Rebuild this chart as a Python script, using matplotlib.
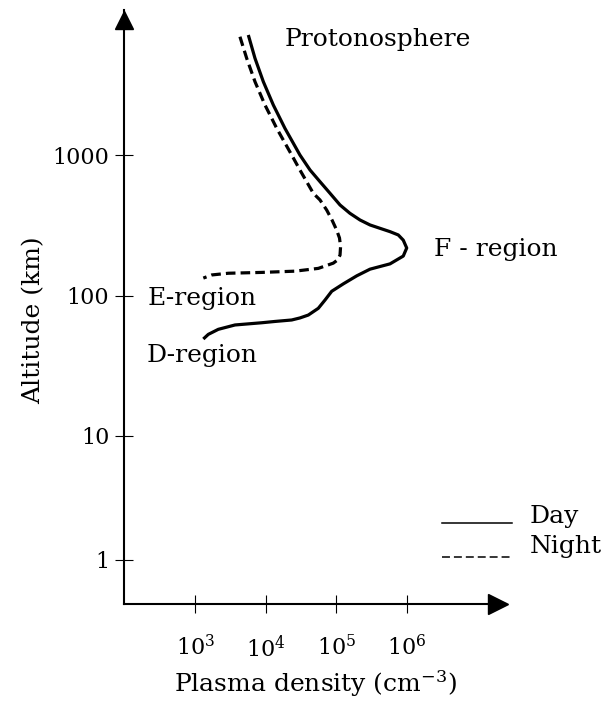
import numpy as np
import matplotlib
matplotlib.use("Agg")
import matplotlib.pyplot as plt
from matplotlib.ticker import NullLocator

plt.rcParams["font.family"] = "DejaVu Serif"
plt.rcParams["mathtext.fontset"] = "dejavuserif"

# Day profile (solid), read from top to bottom
day_density = [5650, 7030, 9230, 12800, 18700, 30500, 42400, 58700, 81500,
               113000, 156000, 217000, 301000, 417000, 578000, 757000, 891000,
               997000, 891000, 578000, 301000, 195000, 126000, 86100, 69200,
               55600, 40100, 30500, 23300, 13500, 8750, 3660, 2120, 1530, 1300]
day_altitude = [7100, 4850, 3310, 2260, 1545, 1000, 783, 647, 535, 442, 386,
                346, 319, 302, 286, 271, 249, 219, 192, 169, 155, 139, 122,
                108, 93.6, 81.7, 73.1, 69.7, 67.4, 65.8, 64.4, 62.1, 57.8,
                53.2, 49.3]

# Night profile (dashed)
night_density = [4300, 5360, 7030, 9750, 14300, 23300, 30500, 47200, 58700,
                 73100, 86900, 101000, 111000, 115000, 113000, 104000, 90600,
                 55600, 25900, 8750, 2940, 1710, 1300]
night_altitude = [6900, 4850, 3310, 2260, 1545, 1000, 783, 535, 480, 407, 346,
                  294, 258, 224, 195, 180, 171, 157, 150, 147, 145, 141, 134]

x_ticks = [1e3, 1e4, 1e5, 1e6]
x_tick_labels = ["$10^{3}$", "$10^{4}$", "$10^{5}$", "$10^{6}$"]
y_ticks = [1, 10, 100, 1000]
y_tick_labels = ["1", "10", "100", "1000"]

# the altitude axis is hand drawn: decades are not equally spaced
LOG_KNOTS = [-1, 0, 1, 2, 3, 5]
POS_KNOTS = [-80, 44, 168, 308, 449, 731]


def fwd(y):
    y = np.clip(np.asarray(y, dtype=float), 1e-6, None)
    return np.interp(np.log10(y), LOG_KNOTS, POS_KNOTS)


def inv(p):
    return 10 ** np.interp(np.asarray(p, dtype=float), POS_KNOTS, LOG_KNOTS)


W, H = 603, 702
fig = plt.figure(figsize=(W / 100, H / 100), dpi=100)
ax = fig.add_axes([124 / W, (H - 604) / H, 382 / W, 594 / H])


def px(x, y):
    return x / W, 1 - y / H


ax.set_xscale("log")
ax.set_yscale("function", functions=(fwd, inv))
ax.set_xlim(10 ** 1.989, 10 ** 7.407)
ax.set_ylim(inv(0), inv(594))

ax.plot(day_density, day_altitude, color="black", lw=2.3,
        solid_joinstyle="round", solid_capstyle="butt")
ax.plot(night_density, night_altitude, color="black", lw=2.3,
        dashes=(3, 1.6), dash_joinstyle="round")

# axes with arrow heads
for side in ["top", "right"]:
    ax.spines[side].set_visible(False)
for side in ["left", "bottom"]:
    ax.spines[side].set_linewidth(1.5)
ax.plot(0, 0.984, "^", color="black", markersize=13, transform=ax.transAxes,
        clip_on=False)
ax.plot(0.978, 0, ">", color="black", markersize=14, transform=ax.transAxes,
        clip_on=False)

ax.set_xticks(x_ticks)
ax.set_xticklabels(x_tick_labels)
ax.set_yticks(y_ticks)
ax.set_yticklabels(y_tick_labels)
ax.xaxis.set_minor_locator(NullLocator())
ax.yaxis.set_minor_locator(NullLocator())
ax.tick_params(axis="both", direction="inout", length=13, width=0.8,
               labelsize=16)
ax.tick_params(axis="x", pad=16)
ax.tick_params(axis="y", pad=4)

ax.set_xlabel("Plasma density (cm$^{-3}$)", fontsize=18)
ax.xaxis.set_label_coords(0.5, -0.108)
ax.set_ylabel("Altitude (km)", fontsize=18)
ax.yaxis.set_label_coords(-0.207, 0.478)

# region labels
fig.text(*px(285, 46), "Protonosphere", fontsize=18, va="baseline")
fig.text(*px(434, 256), "F - region", fontsize=18, va="baseline")
fig.text(*px(148, 305), "E-region", fontsize=18, va="baseline")
fig.text(*px(147, 362), "D-region", fontsize=18, va="baseline")

# hand-made legend
ax.plot([0.832, 1.016], [0.1364, 0.1364], color="black", lw=1.1,
        transform=ax.transAxes, clip_on=False)
ax.plot([0.832, 1.016], [0.0791, 0.0791], color="black", lw=1.1,
        dashes=(5.2, 2.6), transform=ax.transAxes, clip_on=False)
fig.text(*px(530, 523), "Day", fontsize=18, va="baseline")
fig.text(*px(530, 553), "Night", fontsize=18, va="baseline")

fig.savefig("out.png", dpi=100)
